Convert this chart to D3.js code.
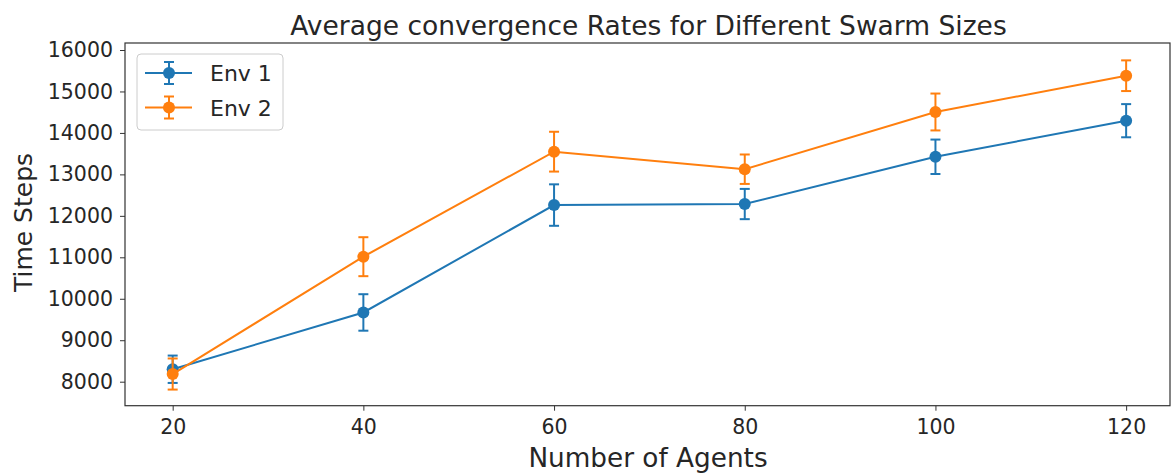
<!DOCTYPE html>
<html><head><meta charset="utf-8">
<script src="https://cdn.jsdelivr.net/npm/d3@7"></script>
<style>body{margin:0;background:#fff;} text{font-family:"DejaVu Sans",sans-serif;fill:#262626;}</style>
</head><body>
<svg id="c" width="1173" height="476"></svg>
<script>
const agents = [20, 40, 60, 80, 100, 120];
const env1 = [8300, 9670, 12260, 12285, 13425, 14295];
const env1Err = [330, 440, 500, 365, 415, 400];
const env2 = [8185, 11015, 13548, 13125, 14505, 15380];
const env2Err = [375, 470, 480, 355, 445, 370];
const yTicks = [8000, 9000, 10000, 11000, 12000, 13000, 14000, 15000, 16000];
const xTicks = [20, 40, 60, 80, 100, 120];
const seriesNames = ["Env 1", "Env 2"];
const colors = ["#1f77b4", "#ff7f0e"];

const svg = d3.select("#c");
const L = 125, R = 1170, T = 43, B = 405.7;
const x = d3.scaleLinear().domain([15, 124.6]).range([L, R]);
const y = d3.scaleLinear().domain([7421, 16169]).range([B, T]);

// axes
const xa = svg.append("g").attr("transform", `translate(0,${B})`)
  .call(d3.axisBottom(x).tickValues(xTicks).tickSize(5).tickPadding(9).tickFormat(d3.format("d")));
const ya = svg.append("g").attr("transform", `translate(${L},0)`)
  .call(d3.axisLeft(y).tickValues(yTicks).tickSize(5).tickPadding(7).tickFormat(d3.format("d")));
[xa, ya].forEach(a => {
  a.select(".domain").remove();
  a.selectAll("text").attr("font-size", 20.5).attr("fill", "#262626").attr("font-family", "DejaVu Sans");
  a.selectAll("line").attr("stroke", "#333").attr("stroke-width", 1);
});
svg.append("rect").attr("x", L).attr("y", T).attr("width", R - L).attr("height", B - T)
  .attr("fill", "none").attr("stroke", "#333").attr("stroke-width", 1.2);

const data = [
  agents.map((a, i) => ({x: a, y: env1[i], e: env1Err[i]})),
  agents.map((a, i) => ({x: a, y: env2[i], e: env2Err[i]}))
];
const line = d3.line().x(d => x(d.x)).y(d => y(d.y));
data.forEach((s, k) => {
  const g = svg.append("g");
  g.append("path").datum(s).attr("d", line).attr("fill", "none").attr("stroke", colors[k]).attr("stroke-width", 2);
  s.forEach(d => {
    g.append("line").attr("x1", x(d.x)).attr("x2", x(d.x)).attr("y1", y(d.y - d.e)).attr("y2", y(d.y + d.e))
      .attr("stroke", colors[k]).attr("stroke-width", 2);
    [d.y - d.e, d.y + d.e].forEach(v => {
      g.append("line").attr("x1", x(d.x) - 5).attr("x2", x(d.x) + 5).attr("y1", y(v)).attr("y2", y(v))
        .attr("stroke", colors[k]).attr("stroke-width", 2);
    });
    g.append("circle").attr("cx", x(d.x)).attr("cy", y(d.y)).attr("r", 6).attr("fill", colors[k]);
  });
});

// title & labels
svg.append("text").attr("x", 648.5).attr("y", 35).attr("text-anchor", "middle").attr("font-size", 26.5)
  .text("Average convergence Rates for Different Swarm Sizes");
svg.append("text").attr("x", 648).attr("y", 467).attr("text-anchor", "middle").attr("font-size", 26.3)
  .text("Number of Agents");
svg.append("text").attr("transform", `translate(31.5,222.5) rotate(-90)`).attr("text-anchor", "middle").attr("font-size", 25)
  .text("Time Steps");

// legend
const lg = svg.append("g");
lg.append("rect").attr("x", 137).attr("y", 54).attr("width", 146).attr("height", 76).attr("rx", 4)
  .attr("fill", "white").attr("fill-opacity", 0.8).attr("stroke", "#ccc").attr("stroke-width", 1);
seriesNames.forEach((n, k) => {
  const cy = 73 + k * 34.5;
  lg.append("line").attr("x1", 145).attr("x2", 192).attr("y1", cy).attr("y2", cy).attr("stroke", colors[k]).attr("stroke-width", 2);
  lg.append("line").attr("x1", 169).attr("x2", 169).attr("y1", cy - 11).attr("y2", cy + 11).attr("stroke", colors[k]).attr("stroke-width", 2);
  [cy - 11, cy + 11].forEach(v => lg.append("line").attr("x1", 164).attr("x2", 174).attr("y1", v).attr("y2", v).attr("stroke", colors[k]).attr("stroke-width", 2));
  lg.append("circle").attr("cx", 169).attr("cy", cy).attr("r", 6).attr("fill", colors[k]);
  lg.append("text").attr("x", 210).attr("y", cy + 8).attr("font-size", 22).text(n);
});
</script>
</body></html>
